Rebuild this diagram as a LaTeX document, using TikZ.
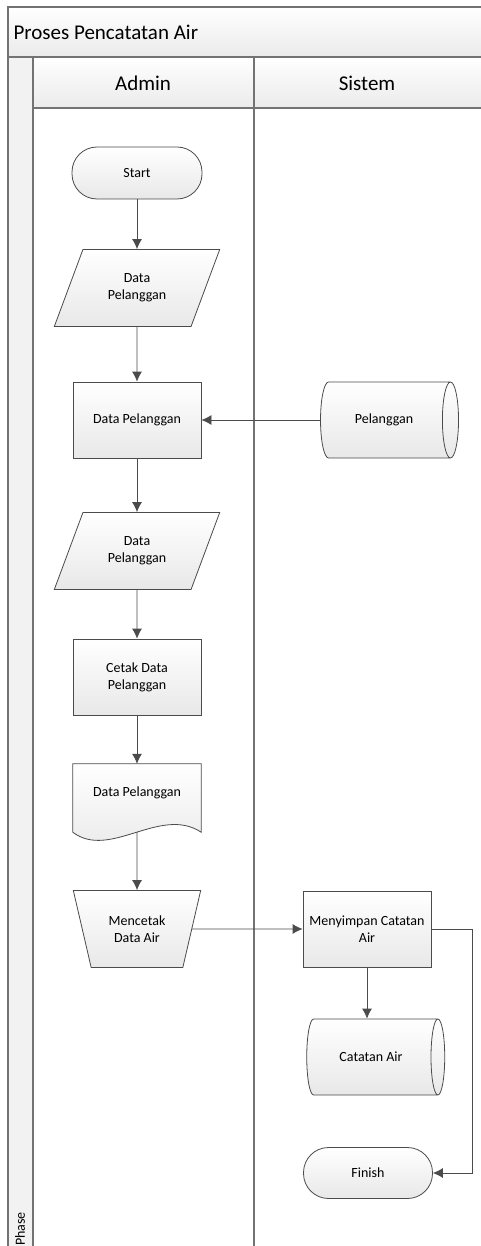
\documentclass[tikz,border=0pt]{standalone}
\usepackage{fontspec}
\setmainfont{Carlito}
\usetikzlibrary{shapes.geometric,arrows.meta}
\definecolor{edge}{RGB}{75,75,75}
\definecolor{lane}{RGB}{115,115,115}

\begin{document}
\begin{tikzpicture}[x=1pt,y=-1pt,>={Latex[length=10pt,width=10pt]},
    every node/.style={font=\fontsize{14}{17}\selectfont},
    box/.style={draw=edge,line width=0.8pt,top color=white,bottom color=black!9,align=center,inner sep=2pt},
    process/.style={box,minimum width=128,minimum height=76},
    terminal/.style={box,rounded corners=25pt,minimum width=130,minimum height=52},
    dataio/.style={box,trapezium,trapezium left angle=63,trapezium right angle=117,
        trapezium stretches=true,minimum width=167,minimum height=77},
    manual/.style={box,trapezium,trapezium left angle=69,trapezium right angle=69,
        shape border rotate=180,trapezium stretches=true,minimum width=128,minimum height=77},
    storage/.style={box,cylinder,aspect=1,minimum height=138,minimum width=76},
    flow/.style={draw=edge,line width=0.8pt,->},
    swim/.style={draw=lane,line width=1.2pt}]
        \useasboundingbox (0,0) rectangle (481,1246);
        % pool and lanes
        \shade [top color=white,bottom color=black!8] (8,7) rectangle (481,57);
        \shade [top color=white,bottom color=black!8] (33,57) rectangle (481,108);
        \fill [black!5] (8,57) rectangle (33,1246);
        \draw [swim] (481,7) -- (8,7) -- (8,1246);
        \draw [swim] (8,57) -- (481,57);
        \draw [swim] (33,57) -- (33,1246);
        \draw [swim] (33,108) -- (481,108);
        \draw [swim] (254,57) -- (254,1246);
        \node [font=\fontsize{21}{25}\selectfont,anchor=west] (pool) at (10,32) {Proses Pencatatan Air};
        \node [font=\fontsize{21}{25}\selectfont] (admin) at (143,83) {Admin};
        \node [font=\fontsize{21}{25}\selectfont] (sistem) at (367,83) {Sistem};
        \node [rotate=90] (phase) at (20,1229) {Phase};

        \node [terminal] (start) at (137,173) {Start};
        \node [dataio] (input) at (137,288) {Data\\Pelanggan};
        \node [process] (ambil) at (137,420) {Data Pelanggan};
        \node [storage] (pelanggan) at (384,420) {Pelanggan};
        \node [dataio] (output) at (137,551) {Data\\Pelanggan};
        \node [process] (cetak) at (137,677) {Cetak Data\\Pelanggan};
        \node [minimum width=128,minimum height=68,inner sep=0pt] (doc) at (137,798) {};
        \draw [draw=edge,line width=0.8pt,top color=white,bottom color=black!9]
            (doc.north west) -- (doc.north east) -- (doc.south east)
            .. controls +(-41,-27) and +(37,28) .. (doc.south west) -- cycle;
        \node (doclabel) at (137,793) {Data Pelanggan};
        \node [manual] (mencetak) at (137,929) {Mencetak\\Data Air};
        \node [process] (simpan) at (367,929) {Menyimpan Catatan\\Air};
        \node [storage] (catatan) at (371,1057) {Catatan Air};
        \node [terminal,minimum width=129,minimum height=51] (finish) at (368,1173) {Finish};

        \draw [flow] (start) -- (input);
        \draw [flow] (input) -- (ambil);
        \draw [flow] (pelanggan) -- (ambil);
        \draw [flow] (ambil) -- (output);
        \draw [flow] (output) -- (cetak);
        \draw [flow] (cetak) -- (doc);
        \draw [flow] (doc.south) -- (mencetak);
        \draw [flow] (mencetak) -- (simpan);
        \draw [flow] (simpan.south) -- (simpan.south |- catatan.north);
        \draw [flow] (simpan.east) -- ++(41,0) |- (finish.east);
    \end{tikzpicture}
\end{document}
